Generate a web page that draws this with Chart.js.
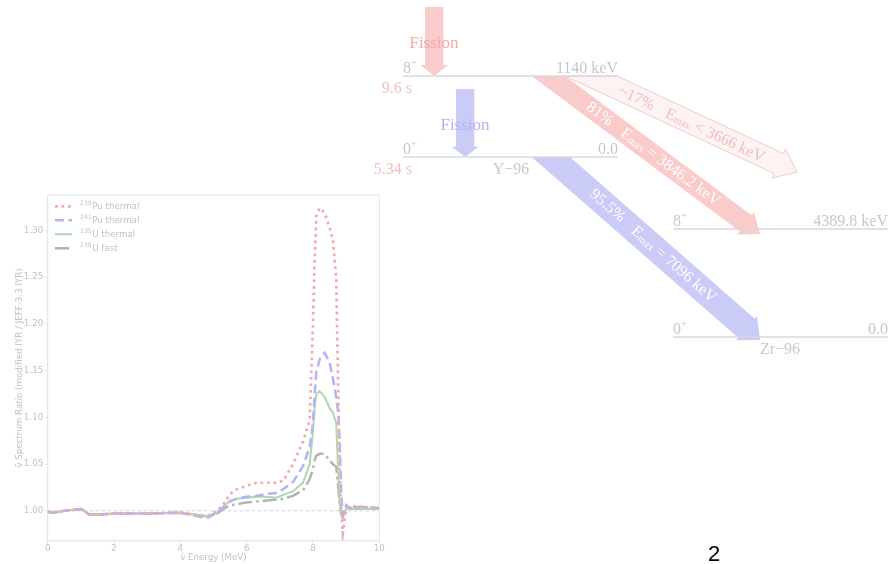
<!DOCTYPE html>
<html><head><meta charset="utf-8">
<script src="https://cdn.jsdelivr.net/npm/chart.js@4/dist/chart.umd.min.js"></script>
<style>
html,body{margin:0;padding:0;background:#fff;width:896px;height:564px;overflow:hidden}
#c{position:absolute;left:0;top:0}
#dia{position:absolute;left:0;top:0;pointer-events:none}
</style></head><body>
<canvas id="c" width="896" height="564"></canvas>
<svg id="dia" width="896" height="564" font-family="'Liberation Serif','DejaVu Serif',serif">
  <polygon points="565,76 617,76 783.5,153.6 785.7,149.1 797,172 772.1,178.1 774.3,173.6" fill="#fdf3f3" stroke="#f1c9c9" stroke-width="1"/>
  <polygon points="531.7,76 565,76 751.6,215.2 754,212 760,234 737.2,234.4 739.6,231.2" fill="#f9cbcb"/>
  <polygon points="531.7,157 570,157 754.75,318.66 757,316.1 760,340 735.9,340.2 738.15,337.64" fill="#cbcbf8"/>
  <polygon points="425,7 443.3,7 443.3,65 448.3,65 434.3,76 420.3,65 425,65" fill="#f9cbcb"/>
  <polygon points="456,89 474.3,89 474.3,146.7 478.7,146.7 465.2,157 451.7,146.7 456,146.7" fill="#cbcbf8"/>
  <g stroke="#d8d8d8" stroke-width="1.5">
    <line x1="403" y1="76" x2="618" y2="76"/>
    <line x1="403" y1="157" x2="618" y2="157"/>
    <line x1="673" y1="229" x2="888" y2="229"/>
    <line x1="673" y1="337" x2="888" y2="337"/>
  </g>
  <g font-size="16">
    <text x="434" y="48" text-anchor="middle" fill="#f3a9a9" font-size="17">Fission</text>
    <text x="465" y="130" text-anchor="middle" fill="#b3b3f3" font-size="17">Fission</text>
    <g fill="#c8c8c8">
      <text x="403" y="73">8<tspan font-size="10.5" dy="-7">+</tspan></text>
      <text x="618" y="73" text-anchor="end">1140 keV</text>
      <text x="403" y="154">0<tspan font-size="10.5" dy="-7">+</tspan></text>
      <text x="618" y="154" text-anchor="end">0.0</text>
      <text x="511" y="174" text-anchor="middle">Y−96</text>
      <text x="673" y="226">8<tspan font-size="10.5" dy="-7">+</tspan></text>
      <text x="888" y="226" text-anchor="end">4389.8 keV</text>
      <text x="673" y="334">0<tspan font-size="10.5" dy="-7">+</tspan></text>
      <text x="888" y="334" text-anchor="end">0.0</text>
      <text x="780" y="354" text-anchor="middle">Zr−96</text>
    </g>
    <g fill="#f2c2c2">
      <text x="412" y="93" text-anchor="end">9.6 s</text>
      <text x="412" y="174" text-anchor="end">5.34 s</text>
    </g>
    <text x="654" y="153" text-anchor="middle" dominant-baseline="central" transform="rotate(36.7 654 153)" fill="#ffffff" font-size="16">81%<tspan dx="14">E</tspan><tspan font-size="10.5" dy="3">max</tspan><tspan dy="-3"> = 3846.2 keV</tspan></text>
    <text x="654" y="245" text-anchor="middle" dominant-baseline="central" transform="rotate(41.2 654 245)" fill="#ffffff" font-size="16">95.5%<tspan dx="14">E</tspan><tspan font-size="10.5" dy="3">max</tspan><tspan dy="-3"> = 7096 keV</tspan></text>
    <text x="692" y="123" text-anchor="middle" dominant-baseline="central" transform="rotate(25 692 123)" fill="#f3bcbc" font-size="16">~17%<tspan dx="14">E</tspan><tspan font-size="10.5" dy="3">max</tspan><tspan dy="-3"> &lt; 3666 keV</tspan></text>
  </g>
  <text x="714" y="561" text-anchor="middle" font-family="'Liberation Sans',Arial,sans-serif" font-size="22" fill="#000">2</text>
</svg>
<script>
// ---- data ----
const energies = [0, 0.15, 0.5, 0.8, 1.0, 1.1, 1.25, 1.5, 2.0, 3.0, 4.0, 4.4, 4.8, 5.1, 5.3, 5.5, 5.7, 6.0, 6.3, 6.6, 6.9, 7.1, 7.4, 7.7, 7.9, 8.0, 8.05, 8.1, 8.2, 8.35, 8.5, 8.6, 8.7, 8.75, 8.8, 8.85, 8.9, 9.0, 9.1, 9.5, 10.0];
const pu239Thermal = [0.999, 0.998, 1.000, 1.001, 1.002, 1.000, 0.996, 0.996, 0.997, 0.997, 0.998, 0.996, 0.994, 1.000, 1.007, 1.018, 1.023, 1.027, 1.030, 1.030, 1.030, 1.032, 1.050, 1.074, 1.097, 1.200, 1.270, 1.315, 1.324, 1.319, 1.303, 1.290, 1.250, 1.150, 1.045, 1.005, 0.976, 1.001, 1.005, 1.004, 1.003];
const pu241Thermal = [0.999, 0.998, 1.000, 1.001, 1.002, 1.000, 0.996, 0.996, 0.997, 0.997, 0.998, 0.995, 0.992, 0.998, 1.004, 1.010, 1.013, 1.015, 1.016, 1.018, 1.019, 1.023, 1.031, 1.048, 1.068, 1.094, 1.125, 1.148, 1.162, 1.169, 1.159, 1.142, 1.122, 1.108, 1.080, 1.020, 0.995, 1.006, 1.003, 1.004, 1.003];
const u235Thermal = [0.999, 0.998, 1.000, 1.001, 1.002, 1.000, 0.996, 0.996, 0.997, 0.997, 0.998, 0.996, 0.994, 0.998, 1.004, 1.011, 1.013, 1.014, 1.015, 1.015, 1.014, 1.017, 1.021, 1.030, 1.050, 1.085, 1.110, 1.125, 1.128, 1.122, 1.110, 1.105, 1.094, 1.050, 1.010, 0.995, 0.992, 1.003, 1.002, 1.002, 1.002];
const u238Fast = [0.999, 0.998, 1.000, 1.001, 1.002, 1.000, 0.996, 0.996, 0.997, 0.997, 0.998, 0.996, 0.994, 0.997, 1.002, 1.006, 1.007, 1.009, 1.010, 1.011, 1.012, 1.013, 1.016, 1.022, 1.034, 1.045, 1.054, 1.059, 1.061, 1.061, 1.054, 1.050, 1.047, 1.030, 1.010, 0.997, 0.995, 1.003, 1.004, 1.004, 1.003];
const refEnergies = [0, 10];
const refRatio = [1.0, 1.0];
const massNumbers = ['239', '241', '235', '238'];
const elements = ['Pu', 'Pu', 'U', 'U'];
const modes = ['thermal', 'thermal', 'thermal', 'fast'];
const yTicks = [1.00, 1.05, 1.10, 1.15, 1.20, 1.25, 1.30];
const xTicks = [0, 2, 4, 6, 8, 10];

const series = [pu239Thermal, pu241Thermal, u235Thermal, u238Fast];
const colors = ['#f5aaaa', '#b3b3f7', '#acd9ac', '#b3b3b3'];
const dashes = [[2.7, 3.8], [9, 4.5], [], [14, 4, 2.5, 4]];
const widths = [2.7, 2.5, 2, 2.5];
const toPts = (xs, ys) => xs.map((x, i) => ({x: x, y: ys[i]}));

const datasets = series.map((vals, i) => ({
  label: massNumbers[i] + elements[i] + ' ' + modes[i],
  data: toPts(energies, vals),
  borderColor: colors[i],
  borderWidth: widths[i],
  borderDash: dashes[i],
  borderCapStyle: 'butt',
  pointRadius: 0,
  tension: 0,
  fill: false
}));
datasets.push({
  label: 'ref',
  data: toPts(refEnergies, refRatio),
  borderColor: '#cfcfcf',
  borderWidth: 0.9,
  borderDash: [3.5, 2.5],
  pointRadius: 0,
  fill: false,
  order: 10
});

const TXT = '#c2c2c2';
const FS = 8.7;
const frame = {
  id: 'frame',
  beforeDatasetsDraw(chart) {
    const {ctx, chartArea: a} = chart;
    ctx.save();
    ctx.strokeStyle = '#e6e6e6';
    ctx.lineWidth = 1;
    ctx.strokeRect(a.left, a.top, a.right - a.left, a.bottom - a.top);
    ctx.restore();
  }
};
const legendPlugin = {
  id: 'customLegend',
  afterDraw(chart) {
    const {ctx, chartArea: a} = chart;
    for (let i = 0; i < 4; i++) {
      const ds = chart.data.datasets[i];
      const y = a.top + 11.3 + i * 14;
      ctx.save();
      ctx.strokeStyle = ds.borderColor;
      ctx.lineWidth = ds.borderWidth;
      ctx.lineCap = 'butt';
      ctx.setLineDash(ds.borderDash);
      ctx.beginPath();
      ctx.moveTo(a.left + 7.3, y);
      ctx.lineTo(a.left + 24.3, y);
      ctx.stroke();
      ctx.setLineDash([]);
      ctx.fillStyle = TXT;
      ctx.textBaseline = 'middle';
      let x = a.left + 32.3;
      ctx.font = '6.1px "DejaVu Sans"';
      ctx.fillText(massNumbers[i], x, y - 2.6);
      x += ctx.measureText(massNumbers[i]).width + 0.5;
      ctx.font = FS + 'px "DejaVu Sans"';
      ctx.fillText(elements[i] + ' ' + modes[i], x, y);
      ctx.restore();
    }
  }
};

Chart.defaults.font.family = '"DejaVu Sans"';
Chart.defaults.font.size = FS;
Chart.defaults.color = TXT;

new Chart(document.getElementById('c'), {
  type: 'line',
  data: {datasets: datasets},
  options: {
    responsive: false,
    animation: false,
    devicePixelRatio: 1,
    layout: {padding: {left: 0, top: 195, right: 516.7, bottom: 0}},
    plugins: {legend: {display: false}, tooltip: {enabled: false}},
    scales: {
      x: {
        type: 'linear', min: 0, max: 10,
        afterFit(s) { s.height = 23.3; },
        afterBuildTicks(s) { s.ticks = xTicks.map(v => ({value: v})); },
        ticks: {padding: 0, color: TXT, callback: v => String(v)},
        grid: {drawOnChartArea: false, drawTicks: true, tickLength: 3, color: '#e6e6e6'},
        border: {display: true, color: '#e6e6e6'},
        title: {display: true, text: 'ν̄ Energy (MeV)', color: TXT, padding: {top: 0, bottom: 1}}
      },
      y: {
        type: 'linear', min: 0.968, max: 1.338,
        afterFit(s) { s.width = 47.7; },
        afterBuildTicks(s) { s.ticks = yTicks.map(v => ({value: v})); },
        ticks: {padding: 1.5, color: TXT, callback: v => Number(v).toFixed(2)},
        grid: {drawOnChartArea: false, drawTicks: true, tickLength: 3, color: '#e6e6e6'},
        border: {display: true, color: '#e6e6e6'},
        title: {display: true, text: 'ν̄ Spectrum Ratio (modified IYR / JEFF-3.3 IYR)', color: TXT, padding: {top: 14.5, bottom: 0}}
      }
    }
  },
  plugins: [frame, legendPlugin]
});
</script>
</body></html>
